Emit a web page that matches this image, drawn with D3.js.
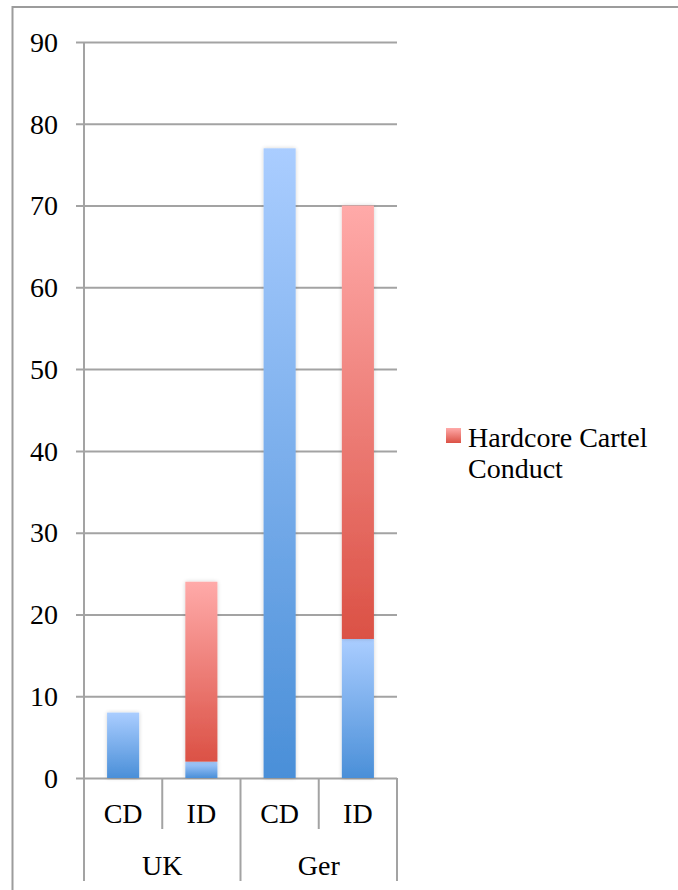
<!DOCTYPE html>
<html>
<head>
<meta charset="utf-8">
<script src="https://cdn.jsdelivr.net/npm/d3@7/dist/d3.min.js"></script>
<style>
  html, body { margin: 0; padding: 0; background: #fff; }
  svg { display: block; font-family: "Liberation Serif", "Times New Roman", serif; }
</style>
</head>
<body>
<svg id="chart" width="678" height="890"></svg>
<script>
// Categories: each country has a CD and an ID bar
const groups = ["UK", "Ger"];
const subCategories = ["CD", "ID"];
const categories = [
  { group: "UK", sub: "CD" },
  { group: "UK", sub: "ID" },
  { group: "Ger", sub: "CD" },
  { group: "Ger", sub: "ID" }
];
// Stacked series values, one per category
const otherConduct = [8, 2, 77, 17];
const hardcoreCartel = [0, 22, 0, 53];
const seriesNames = ["Other", "Hardcore Cartel Conduct"];
const yTicks = [0, 10, 20, 30, 40, 50, 60, 70, 80, 90];

const svg = d3.select("#chart");
const plot = { left: 84, right: 397, top: 42, bottom: 778 };
const gridColor = "#a3a3a3";
const textColor = "#000";
const fontSize = 28;

// Outer chart frame
svg.append("rect")
  .attr("x", 12.5).attr("y", 7)
  .attr("width", 700).attr("height", 900)
  .attr("fill", "none").attr("stroke", "#9c9c9c").attr("stroke-width", 2);

const defs = svg.append("defs");
function vGradient(id, top, bottom) {
  const g = defs.append("linearGradient").attr("id", id)
    .attr("x1", 0).attr("y1", 0).attr("x2", 0).attr("y2", 1);
  g.append("stop").attr("offset", "0%").attr("stop-color", top);
  g.append("stop").attr("offset", "100%").attr("stop-color", bottom);
}
vGradient("gradBlue", "#aacdff", "#4a8fd8");
vGradient("gradRed", "#ffaaa9", "#db5145");

const shadow = defs.append("filter").attr("id", "barShadow")
  .attr("x", "-30%").attr("y", "-5%").attr("width", "160%").attr("height", "110%");
shadow.append("feGaussianBlur").attr("in", "SourceAlpha").attr("stdDeviation", 2.2).attr("result", "b");
shadow.append("feOffset").attr("in", "b").attr("dx", 0).attr("dy", 0).attr("result", "o");
shadow.append("feComponentTransfer").attr("in", "o").attr("result", "s")
  .append("feFuncA").attr("type", "linear").attr("slope", 0.18);
const merge = shadow.append("feMerge");
merge.append("feMergeNode").attr("in", "s");
merge.append("feMergeNode").attr("in", "SourceGraphic");

const y = d3.scaleLinear().domain([0, 90]).range([plot.bottom, plot.top]);
const x = d3.scaleBand().domain(d3.range(categories.length)).range([plot.left, plot.right]).padding(0);
const barW = x.bandwidth() * 0.41;

// Horizontal gridlines with tick marks extending left of the axis
const gridAxis = d3.axisLeft(y).tickValues(yTicks)
  .tickSize(-(plot.right - plot.left)).tickPadding(0).tickFormat("");
const gAxis = svg.append("g").attr("transform", `translate(${plot.left},0)`).call(gridAxis);
gAxis.select(".domain").remove();
gAxis.selectAll(".tick line")
  .attr("x1", -8)
  .attr("stroke", gridColor).attr("stroke-width", 2);

// Y tick labels
svg.append("g").selectAll("text").data(yTicks).join("text")
  .attr("x", 58).attr("y", d => y(d))
  .attr("dy", "0.35em").attr("text-anchor", "end")
  .attr("font-size", fontSize).attr("fill", textColor)
  .text(d => d);

// Stacked bars
const stackData = categories.map((c, i) => ({ i, Other: otherConduct[i], "Hardcore Cartel Conduct": hardcoreCartel[i] }));
const stacked = d3.stack().keys(seriesNames)(stackData);
const fills = { "Other": "url(#gradBlue)", "Hardcore Cartel Conduct": "url(#gradRed)" };
svg.append("g").selectAll("g").data(stacked).join("g")
  .attr("fill", s => fills[s.key])
  .selectAll("rect").data(s => s.filter(d => d[1] > d[0])).join("rect")
  .attr("filter", "url(#barShadow)")
  .attr("x", d => x(d.data.i) + (x.bandwidth() - barW) / 2)
  .attr("width", barW)
  .attr("y", d => y(d[1]))
  .attr("height", d => y(d[0]) - y(d[1]));

// Vertical axis line, extends down through the category label rows
const rowH1 = 51, rowH2 = 103;
svg.append("line")
  .attr("x1", plot.left).attr("x2", plot.left)
  .attr("y1", plot.top).attr("y2", plot.bottom + rowH2)
  .attr("stroke", gridColor).attr("stroke-width", 2);

// Category dividers
const boundaries = d3.range(1, categories.length + 1).map(k => plot.left + k * x.step());
svg.append("g").selectAll("line").data(boundaries).join("line")
  .attr("x1", d => d).attr("x2", d => d)
  .attr("y1", plot.bottom)
  .attr("y2", (d, k) => ((k + 1) % subCategories.length === 0) ? plot.bottom + rowH2 : plot.bottom + rowH1)
  .attr("stroke", gridColor).attr("stroke-width", 2);

// Sub-category labels
svg.append("g").selectAll("text").data(categories).join("text")
  .attr("x", (d, i) => x(i) + x.bandwidth() / 2)
  .attr("y", plot.bottom + 35)
  .attr("dy", "0.35em").attr("text-anchor", "middle")
  .attr("font-size", fontSize).attr("fill", textColor)
  .text(d => d.sub);

// Group labels
svg.append("g").selectAll("text").data(groups).join("text")
  .attr("x", (g, gi) => plot.left + (gi + 0.5) * subCategories.length * x.step())
  .attr("y", plot.bottom + 87)
  .attr("dy", "0.35em").attr("text-anchor", "middle")
  .attr("font-size", fontSize).attr("fill", textColor)
  .text(g => g);

// Legend (cartel series only)
const legend = svg.append("g");
legend.append("rect")
  .attr("x", 446).attr("y", 428).attr("width", 15).attr("height", 15)
  .attr("fill", "url(#gradRed)");
const legendText = legend.append("text")
  .attr("font-size", fontSize).attr("fill", textColor);
legendText.append("tspan").attr("x", 468).attr("y", 447).text("Hardcore Cartel");
legendText.append("tspan").attr("x", 468).attr("y", 478).text("Conduct");
</script>
</body>
</html>
